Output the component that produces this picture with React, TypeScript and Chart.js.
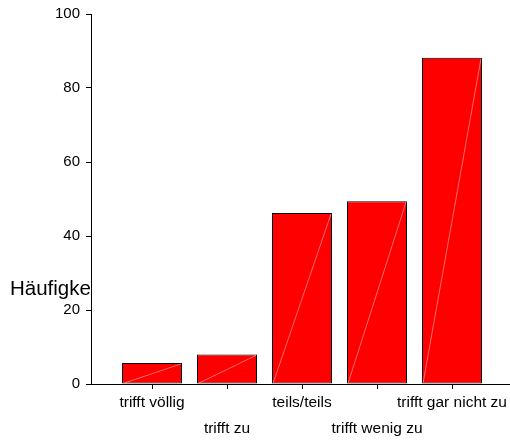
import React, { useEffect, useRef } from 'react';
import { Chart, registerables } from 'chart.js';

Chart.register(...registerables);

const categories = ['trifft völlig', 'trifft zu', 'teils/teils', 'trifft wenig zu', 'trifft gar nicht zu'];
const values = [5.7, 8, 46.2, 49.4, 88.2];
const yTickValues = [0, 20, 40, 60, 80, 100];
const yTitle = 'Häufigkeit';

const FONT = '"Liberation Sans", Arial, sans-serif';

export default function App() {
  const ref = useRef<HTMLCanvasElement>(null);

  useEffect(() => {
    document.body.style.margin = '0';
    const canvas = ref.current;
    if (!canvas) return;

    const sideTitle = {
      id: 'sideTitle',
      beforeDraw(chart: any) {
        const { ctx, chartArea } = chart;
        ctx.save();
        ctx.beginPath();
        ctx.rect(0, 0, chartArea.left, chart.height);
        ctx.clip();
        ctx.font = `20.5px ${FONT}`;
        ctx.fillStyle = '#000';
        ctx.textBaseline = 'alphabetic';
        ctx.textAlign = 'left';
        ctx.fillText(yTitle, 10, 295);
        ctx.restore();
      },
    };

    const diagonals = {
      id: 'diagonals',
      afterDatasetsDraw(chart: any) {
        const { ctx } = chart;
        const meta = chart.getDatasetMeta(0);
        ctx.save();
        ctx.strokeStyle = 'rgba(255,170,170,0.8)';
        ctx.lineWidth = 0.8;
        meta.data.forEach((bar: any) => {
          const p = bar.getProps(['x', 'y', 'base', 'width'], true);
          ctx.beginPath();
          ctx.moveTo(p.x - p.width / 2 + 1, p.base);
          ctx.lineTo(p.x + p.width / 2 - 1, p.y + 1);
          ctx.stroke();
        });
        ctx.restore();
      },
    };

    const chart = new Chart(canvas, {
      type: 'bar',
      data: {
        datasets: [
          {
            data: values.map((v, i) => ({ x: i, y: v })),
            backgroundColor: '#ff0000',
            borderColor: '#000000',
            borderWidth: 1,
            borderSkipped: false,
            categoryPercentage: 0.8,
            barPercentage: 1.0,
          },
        ],
      },
      options: {
        responsive: false,
        animation: false,
        layout: { padding: { top: 14, left: 0, right: 0, bottom: 0 } },
        plugins: {
          legend: { display: false },
          tooltip: { enabled: false },
        },
        scales: {
          x: {
            type: 'linear',
            offset: false,
            min: -61 / 75,
            max: 358 / 75,
            afterBuildTicks: (s: any) => {
              s.ticks = categories.map((_, i) => ({ value: i }));
            },
            ticks: {
              autoSkip: false,
              maxRotation: 0,
              minRotation: 0,
              color: '#000',
              padding: 1,
              font: { size: 15.5, family: FONT, lineHeight: '26px' },
              callback: (v: any) => {
                const i = Math.round(Number(v));
                return i % 2 === 1 ? ['', categories[i]] : categories[i];
              },
            },
            grid: { offset: false, drawOnChartArea: false, drawTicks: true, tickLength: 5, color: '#000', tickColor: '#000' },
            border: { display: true, color: '#000', width: 1 },
            afterFit: (s: any) => {
              s.height = 441 - 384;
              s.paddingLeft = 0;
              s.paddingRight = 0;
            },
          },
          y: {
            type: 'linear',
            min: 0,
            max: 100,
            afterBuildTicks: (s: any) => {
              s.ticks = yTickValues.map((v) => ({ value: v }));
            },
            ticks: {
              color: '#000',
              padding: 6,
              font: { size: 15, family: FONT },
            },
            grid: { drawOnChartArea: false, drawTicks: true, tickLength: 5, color: '#000', tickColor: '#000' },
            border: { display: true, color: '#000', width: 1 },
            afterFit: (s: any) => {
              s.width = 91;
              s.paddingTop = 0;
              s.paddingBottom = 0;
            },
          },
        },
      },
      plugins: [sideTitle, diagonals],
    });

    return () => chart.destroy();
  }, []);

  return <canvas ref={ref} width={510} height={441} style={{ display: 'block' }} />;
}
